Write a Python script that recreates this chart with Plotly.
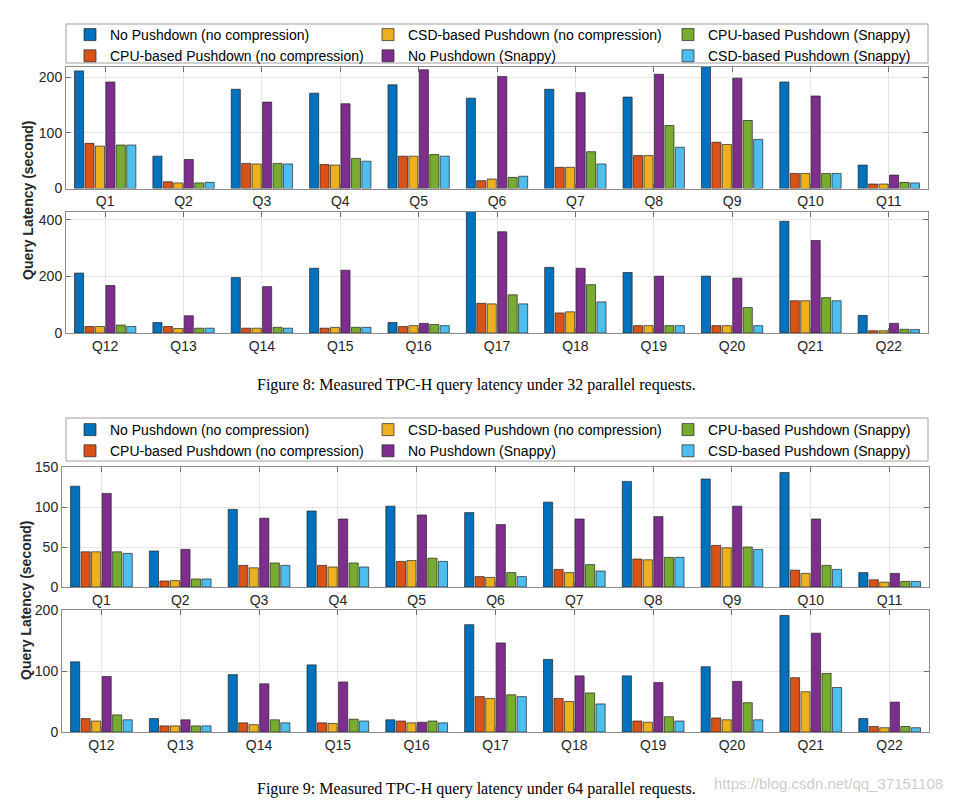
import plotly.graph_objects as go

W, H = 954, 807

queries_top = ["Q%d" % i for i in range(1, 12)]
queries_bottom = ["Q%d" % i for i in range(12, 23)]

series_names = [
    "No Pushdown (no compression)",
    "CPU-based Pushdown (no compression)",
    "CSD-based Pushdown (no compression)",
    "No Pushdown (Snappy)",
    "CPU-based Pushdown (Snappy)",
    "CSD-based Pushdown (Snappy)",
]
series_colors = ["#0072BD", "#D95319", "#EDB120", "#7E2F8E", "#77AC30", "#4DBEEE"]
# legend column (0,1,2) of each series, two entries per column
legend_column = [0, 0, 1, 1, 2, 2]

# Figure 8: 32 parallel requests (Q1..Q22)
no_push_nc_32 = [211, 58, 178, 171, 186, 162, 178, 164, 225, 191, 42,
                 212, 37, 196, 229, 37, 440, 232, 214, 201, 395, 62]
cpu_nc_32 = [81, 12, 45, 43, 58, 14, 38, 59, 83, 27, 8,
             23, 23, 17, 17, 23, 105, 71, 26, 26, 114, 8]
csd_nc_32 = [76, 10, 44, 42, 58, 17, 38, 59, 79, 27, 8,
             23, 16, 17, 20, 26, 103, 75, 26, 26, 114, 8]
no_push_sn_32 = [191, 52, 155, 152, 213, 201, 172, 205, 198, 166, 24,
                 168, 61, 164, 222, 34, 358, 229, 201, 194, 327, 34]
cpu_sn_32 = [78, 10, 45, 54, 61, 20, 66, 113, 122, 27, 11,
             28, 17, 20, 20, 30, 135, 171, 26, 90, 125, 13]
csd_sn_32 = [78, 11, 44, 49, 58, 22, 44, 74, 88, 27, 10,
             23, 17, 17, 20, 26, 103, 110, 26, 26, 114, 12]

# Figure 9: 64 parallel requests (Q1..Q22)
no_push_nc_64 = [126, 45, 97, 95, 101, 93, 106, 132, 135, 143, 18,
                 115, 22, 94, 110, 20, 176, 119, 92, 107, 191, 22]
cpu_nc_64 = [44, 7.5, 27, 27, 32, 13, 22, 35, 52, 21, 9,
             22, 10, 15, 15, 18, 58, 55, 18, 23, 89, 9]
csd_nc_64 = [44, 8, 24, 25, 33, 12, 18, 34, 49, 17, 6,
             18, 10, 12, 14, 15, 55, 50, 16, 20, 66, 7]
no_push_sn_64 = [117, 47, 86, 85, 90, 78, 85, 88, 101, 85, 17,
                 91, 20, 79, 82, 16, 146, 92, 81, 83, 162, 49]
cpu_sn_64 = [44, 10, 30, 30, 36, 18, 28, 37, 50, 27, 7,
             28, 10, 20, 21, 18, 61, 64, 25, 48, 96, 9]
csd_sn_64 = [42, 10, 27, 25, 32, 13, 20, 37, 47, 22, 7,
             20, 10, 15, 18, 15, 58, 46, 18, 20, 73, 7]

fig8_series = [no_push_nc_32, cpu_nc_32, csd_nc_32, no_push_sn_32, cpu_sn_32, csd_sn_32]
fig9_series = [no_push_nc_64, cpu_nc_64, csd_nc_64, no_push_sn_64, cpu_sn_64, csd_sn_64]

fig8_ranges = [[0, 218], [0, 428]]
fig8_dticks = [100, 200]
fig9_ranges = [[0, 150], [0, 200]]
fig9_dticks = [50, 100]


def px_x(p):
    return p / W


def px_y(p):
    return 1 - p / H


def legend_id(n):
    return "legend" if n == 1 else "legend%d" % n


fig = go.Figure()

# (series, half, axis index, first legend number, show legend)
panels = [
    (fig8_series, 0, 1, 1, True),
    (fig8_series, 1, 2, 1, False),
    (fig9_series, 0, 3, 4, True),
    (fig9_series, 1, 4, 4, False),
]

for series, half, ax, leg0, show in panels:
    cats = queries_top if half == 0 else queries_bottom
    for i, vals in enumerate(series):
        v = vals[:11] if half == 0 else vals[11:]
        fig.add_trace(go.Bar(
            x=cats, y=v, name=series_names[i],
            marker=dict(color=series_colors[i], line=dict(color="rgba(30,30,30,0.85)", width=0.8)),
            xaxis="x" if ax == 1 else "x%d" % ax,
            yaxis="y" if ax == 1 else "y%d" % ax,
            legend=legend_id(leg0 + legend_column[i]), showlegend=show,
        ))

domains = {
    1: ([66, 928], [67, 188.5]),
    2: ([66, 928], [212, 333]),
    3: ([62, 929], [467, 587]),
    4: ([62, 929], [610, 732]),
}
yranges = {1: fig8_ranges[0], 2: fig8_ranges[1], 3: fig9_ranges[0], 4: fig9_ranges[1]}
ydticks = {1: fig8_dticks[0], 2: fig8_dticks[1], 3: fig9_dticks[0], 4: fig9_dticks[1]}

axis_font = dict(family="Liberation Sans, Arial, sans-serif", size=14, color="#262626")
layout_axes = {}
for ax in range(1, 5):
    (x0, x1), (y0, y1) = domains[ax]
    xn = "xaxis" if ax == 1 else "xaxis%d" % ax
    yn = "yaxis" if ax == 1 else "yaxis%d" % ax
    layout_axes[xn] = dict(
        domain=[px_x(x0), px_x(x1)], anchor="y" if ax == 1 else "y%d" % ax,
        type="category", range=[-0.5, 10.5],
        showgrid=True, gridcolor="#e6e6e6", gridwidth=1,
        showline=True, linecolor="#8c8c8c", linewidth=1, mirror="ticks",
        ticks="inside", ticklen=5, tickcolor="#6e6e6e",
        tickfont=axis_font, fixedrange=True,
    )
    layout_axes[yn] = dict(
        domain=[px_y(y1), px_y(y0)], anchor="x" if ax == 1 else "x%d" % ax,
        range=yranges[ax], dtick=ydticks[ax], tick0=0,
        showgrid=True, gridcolor="#e6e6e6", gridwidth=1, zeroline=False,
        showline=True, linecolor="#8c8c8c", linewidth=1, mirror="ticks",
        ticks="inside", ticklen=5, tickcolor="#6e6e6e",
        tickfont=axis_font, fixedrange=True,
    )

legend_common = dict(
    orientation="v", xanchor="left", yanchor="top",
    bgcolor="rgba(0,0,0,0)", borderwidth=0, traceorder="normal",
    font=dict(family="Liberation Sans, Arial, sans-serif", size=14, color="#000000"),
    itemwidth=30, tracegroupgap=0,
)
legend_text_x = [110, 408, 708]
legend_tops = [19, 414]
legends = {}
for f, top in enumerate(legend_tops):
    for c, tx in enumerate(legend_text_x):
        legends[legend_id(1 + 3 * f + c)] = dict(x=px_x(tx - 40), y=px_y(top), **legend_common)

shapes = [
    dict(type="rect", xref="paper", yref="paper",
         x0=px_x(66), x1=px_x(928), y0=px_y(63), y1=px_y(24),
         line=dict(color="#a0a0a0", width=1), fillcolor="rgba(0,0,0,0)"),
    dict(type="rect", xref="paper", yref="paper",
         x0=px_x(66), x1=px_x(928), y0=px_y(461), y1=px_y(418),
         line=dict(color="#a0a0a0", width=1), fillcolor="rgba(0,0,0,0)"),
]

ytitle_font = dict(family="Liberation Sans, Arial, sans-serif", size=14, color="#262626")
caption_font = dict(family="Liberation Serif, Times New Roman, serif", size=16, color="#000000")
annotations = [
    dict(text="<b>Query Latency (second)</b>", xref="paper", yref="paper",
         x=px_x(28), y=px_y(200), xanchor="center", yanchor="middle",
         textangle=-90, showarrow=False, font=ytitle_font),
    dict(text="<b>Query Latency (second)</b>", xref="paper", yref="paper",
         x=px_x(26), y=px_y(600), xanchor="center", yanchor="middle",
         textangle=-90, showarrow=False, font=ytitle_font),
    dict(text="Figure 8: Measured TPC-H query latency under 32 parallel requests.",
         xref="paper", yref="paper", x=px_x(476), y=px_y(385),
         xanchor="center", yanchor="middle", showarrow=False, font=caption_font),
    dict(text="https://blog.csdn.net/qq_37151108",
         xref="paper", yref="paper", x=px_x(828), y=px_y(783),
         xanchor="center", yanchor="middle", showarrow=False,
         font=dict(family="Liberation Sans, Arial, sans-serif", size=15, color="rgba(190,190,190,0.8)")),
    dict(text="Figure 9: Measured TPC-H query latency under 64 parallel requests.",
         xref="paper", yref="paper", x=px_x(476), y=px_y(789),
         xanchor="center", yanchor="middle", showarrow=False, font=caption_font),
]

fig.update_layout(
    width=W, height=H, margin=dict(l=0, r=0, t=0, b=0, autoexpand=False),
    paper_bgcolor="white", plot_bgcolor="white",
    barmode="group", bargap=0.2, bargroupgap=0.13,
    shapes=shapes, annotations=annotations,
    **legends,
    **layout_axes,
)

fig.write_html("out.html")
